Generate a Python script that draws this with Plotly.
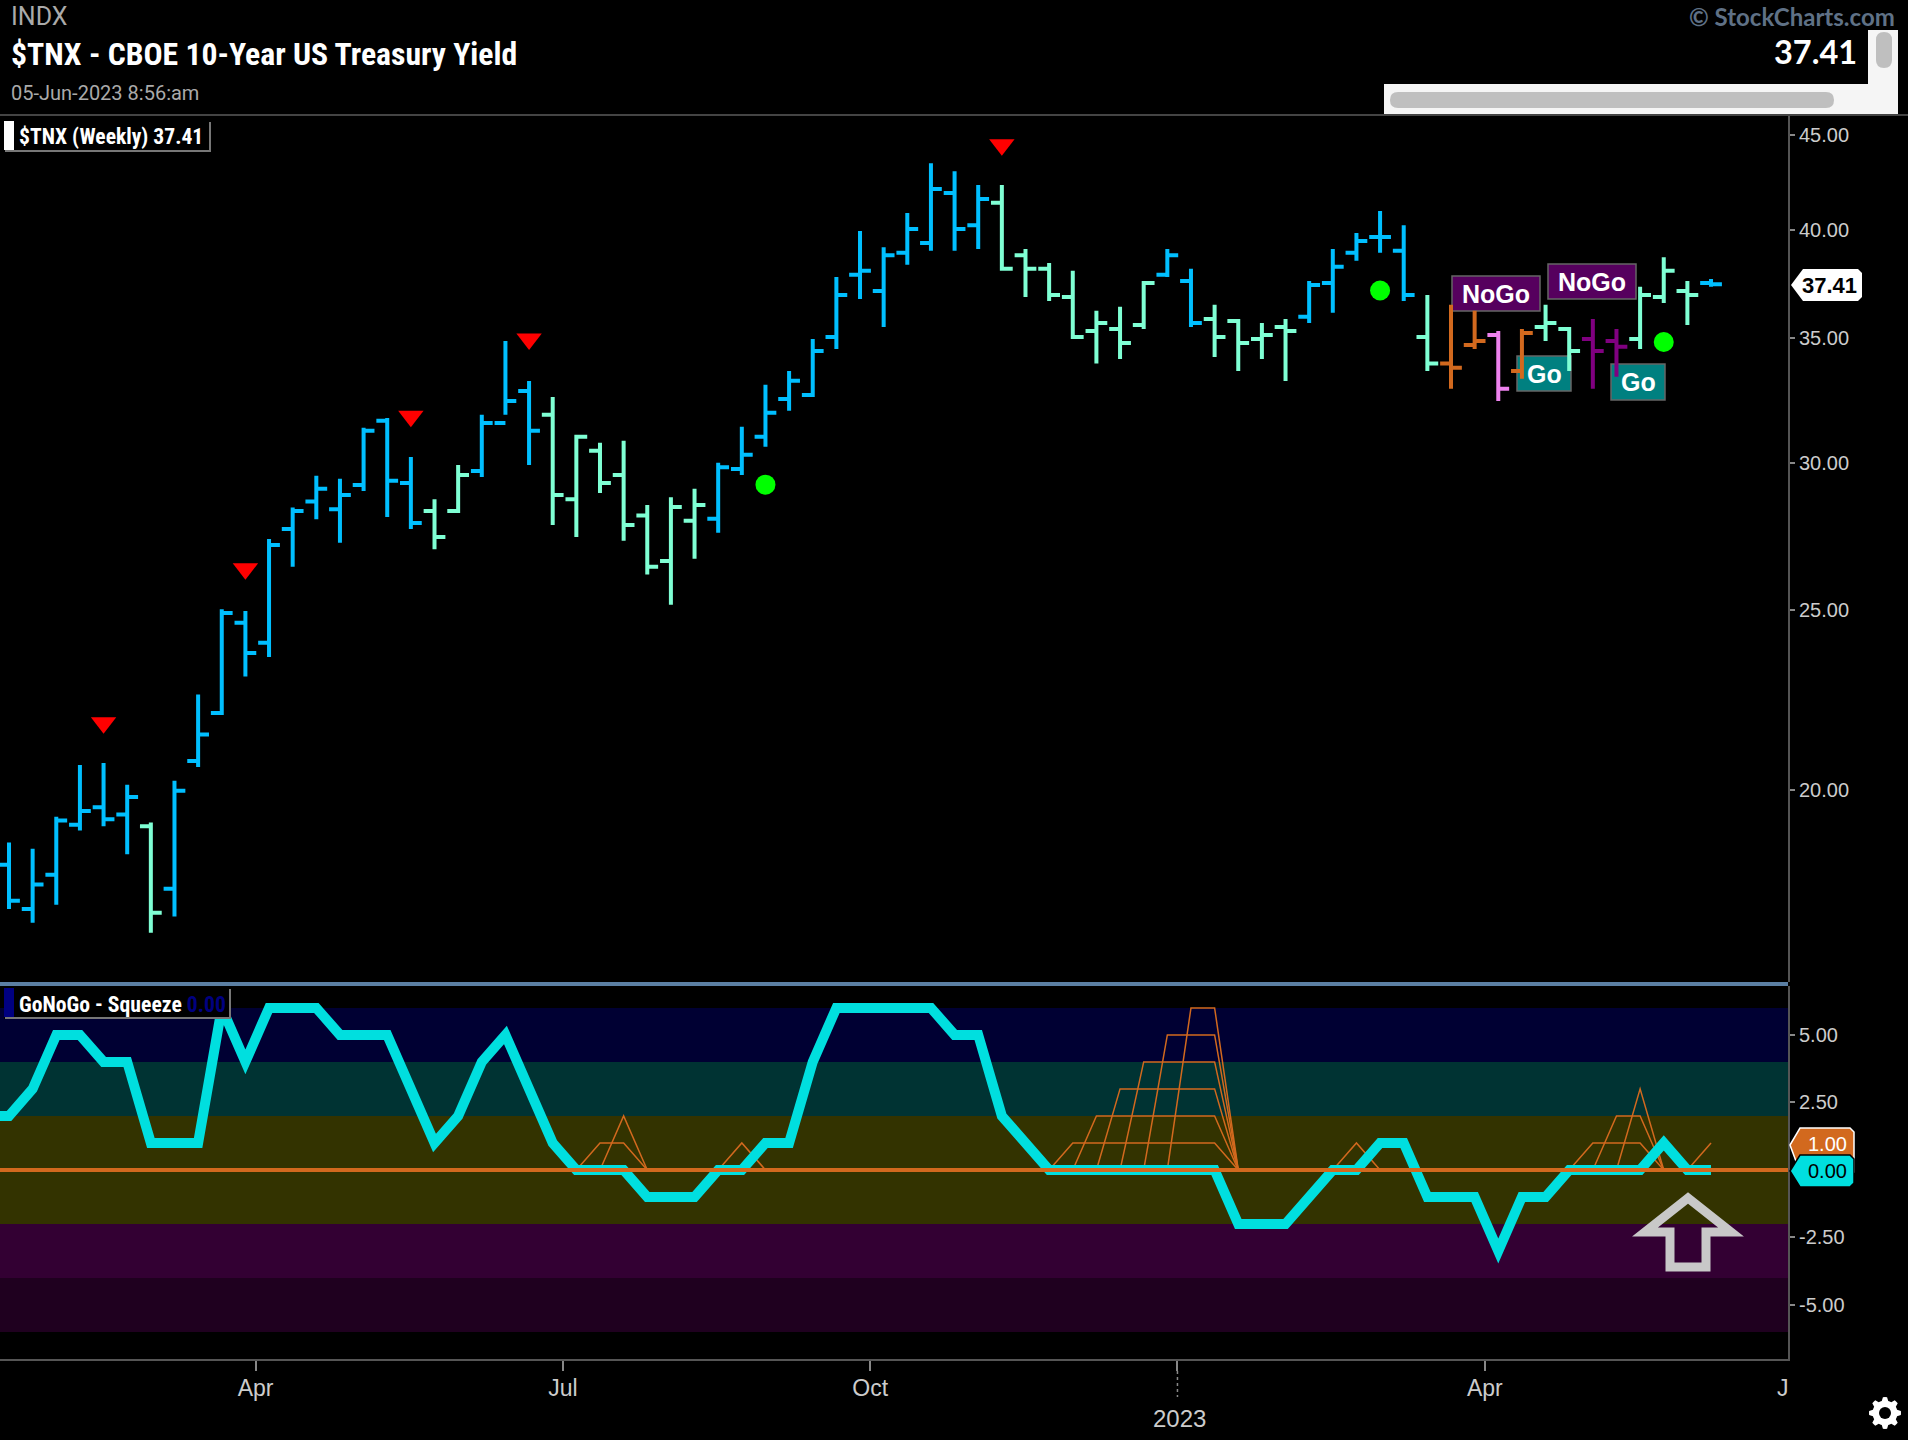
import math
import pandas as pd
from plotly.subplots import make_subplots
import plotly.graph_objs as go

# Weekly $TNX bars
week_dates = pd.date_range('2022-01-17', periods=73, freq='7D')

bar_open = [18.23, 17.26, 18.01, 19.16, 19.58, 19.40, 19.12, 17.70, 20.73, 22.00, 24.60, 24.00, 27.63, 28.59, 28.31, 29.18,
            31.59, 29.25, 28.25, 28.25, 29.69, 31.51, 32.78, 31.83, 28.67, 30.44, 29.54, 28.10, 26.56, 27.91, 27.98, 29.76,
            30.97, 32.46, 32.62, 35.04, 37.85, 37.10, 38.90, 39.37, 41.88, 40.25, 41.38, 38.78, 38.13, 36.83, 35.31, 35.39,
            35.57, 37.85, 37.56, 35.84, 35.75, 34.96, 35.48, 35.93, 37.47, 38.90, 39.66, 38.99, 35.04, 33.91, 34.70, 35.13,
            33.60, 35.48, 35.39, 34.96, 34.87, 34.96, 36.83, 37.10, 37.47]
bar_high = [18.74, 18.60, 19.35, 20.63, 20.68, 20.13, 19.21, 20.23, 22.51, 25.02, 24.96, 27.29, 28.38, 29.51, 29.40, 31.32,
            31.70, 30.21, 28.67, 29.91, 31.83, 34.87, 33.19, 32.54, 31.05, 30.74, 30.82, 28.46, 28.74, 29.04, 29.99, 31.36,
            33.03, 33.60, 34.96, 37.75, 39.96, 39.17, 40.86, 43.46, 43.03, 42.30, 42.30, 39.08, 38.41, 38.04, 36.20, 36.38,
            37.56, 39.08, 38.13, 36.47, 35.84, 35.66, 35.84, 37.56, 39.08, 39.86, 40.96, 40.25, 36.92, 36.47, 36.20, 35.31,
            35.39, 36.47, 35.48, 35.84, 35.39, 37.29, 38.68, 37.56, 37.66]
bar_low = [17.26, 16.97, 17.35, 19.02, 19.12, 18.47, 16.76, 17.10, 20.58, 21.95, 23.02, 23.58, 26.37, 27.97, 27.16, 28.96,
           28.04, 27.63, 26.95, 28.18, 29.47, 31.83, 29.91, 27.77, 27.36, 28.89, 27.23, 26.12, 25.16, 26.63, 27.50, 29.54,
           30.59, 31.99, 32.54, 34.53, 36.73, 35.48, 38.32, 38.99, 38.99, 39.08, 38.04, 36.83, 36.64, 34.96, 33.91, 34.10,
           35.39, 37.75, 35.48, 34.19, 33.60, 34.10, 33.19, 35.66, 36.11, 38.51, 38.90, 36.64, 33.60, 32.87, 34.53, 32.38,
           33.28, 34.87, 33.60, 32.87, 33.36, 34.53, 36.55, 35.57, 37.29]
bar_close = [17.44, 17.79, 19.26, 19.49, 19.29, 19.83, 17.18, 19.98, 21.42, 24.90, 23.70, 27.09, 28.25, 29.04, 28.82, 31.20,
             29.33, 27.84, 27.36, 29.54, 31.51, 32.38, 31.20, 28.82, 30.97, 29.25, 27.77, 26.37, 28.39, 28.46, 29.83, 30.29,
             31.91, 33.20, 34.44, 36.92, 38.04, 38.78, 40.06, 42.09, 40.06, 41.58, 38.13, 38.13, 36.92, 35.04, 35.66, 34.79,
             37.47, 38.78, 35.66, 35.04, 34.79, 35.13, 35.31, 37.38, 38.23, 39.47, 39.66, 36.92, 33.91, 33.74, 34.87, 32.87,
             35.22, 35.66, 34.44, 34.44, 34.62, 36.92, 38.04, 36.92, 37.41]
bar_regime = (['go'] * 6 + ['weak'] + ['go'] * 11 + ['weak'] * 2 + ['go'] * 3 + ['weak'] * 7 + ['go'] * 12 + ['weak'] * 7
              + ['go'] * 2 + ['weak'] * 4 + ['go'] * 5 + ['weak'] + ['nogo'] * 2 + ['pink'] + ['nogo'] + ['weak'] * 2
              + ['purple'] * 2 + ['weak'] * 3 + ['go'])
regime_colors = {'go': '#00bfff', 'weak': '#7fffd4', 'nogo': '#d2691e', 'pink': '#ee82ee', 'purple': '#800080'}

# Signal markers
red_idx = [4, 10, 17, 22, 42]
red_val = [21.74, 26.30, 31.77, 34.96, 44.47]
green_idx = [32, 58, 70]
green_val = [29.19, 37.12, 34.83]

# Oscillator, first value sits one week before the first bar
osc_val = [2, 2, 3, 5, 5, 4, 4, 1, 1, 1, 6, 4, 6, 6, 6, 5, 5, 5, 3, 1, 2, 4, 5, 3, 1, 0, 0, 0, -1, -1, -1, 0, 0, 1, 1, 4, 6, 6,
           6, 6, 6, 5, 5, 2, 1, 0, 0, 0, 0, 0, 0, 0, 0, -2, -2, -2, -1, 0, 0, 1, 1, -1, -1, -1, -3, -1, -1, 0, 0, 0, 0, 1, 0, 0]

# Squeeze grid: first bar index and values of each run
squeeze_runs = [(24, [0, 1, 1, 0]), (25, [0, 2, 0]), (30, [0, 1, 0]),
                (44, [0, 1, 1, 1, 1, 1, 1, 1, 0]), (45, [0, 2, 2, 2, 2, 2, 2, 0]), (46, [0, 3, 3, 3, 3, 3, 0]),
                (47, [0, 4, 4, 4, 4, 0]), (48, [0, 5, 5, 5, 0]), (49, [0, 6, 6, 0]),
                (56, [0, 1, 0]), (66, [0, 1, 1, 1, 0]), (67, [0, 2, 2, 0]), (68, [0, 3, 0]), (71, [0, 1])]

band_edges = [6, 4, 2, -2, -4, -6]
band_colors = ['#000033', '#003333', '#333300', '#330033', '#1f001f']

price_ticks = [20, 25, 30, 35, 40, 45]
price_labels = ['20.00', '25.00', '30.00', '35.00', '40.00', '45.00']
osc_ticks = [-5, -2.5, 2.5, 5]
osc_labels = ['-5.00', '-2.50', '2.50', '5.00']
time_ticks = ['2022-03-31', '2022-06-30', '2022-09-29', '2022-12-29', '2023-03-30']
time_labels = ['Apr', 'Jul', 'Oct', '', 'Apr']

W, H = 1908, 1440
RIGHT = 1788
AXIS_COLOR = '#555555'
LABEL_COLOR = '#cccccc'
NARROW = 'Liberation Sans Narrow, Roboto Condensed, Roboto'
HELV = 'Liberation Sans, Arial'


# pixel helpers for the page furniture
def fx(px):
    return px / W


def fy(py):
    return 1 - py / H


def poly(points):
    return 'M' + ' L'.join('%.5f,%.5f' % (fx(a), fy(b)) for a, b in points) + ' Z'


def pill(x0, y0, x1, y1, r):
    c = 'M%.5f,%.5f' % (fx(x0 + r), fy(y0))
    c += ' L%.5f,%.5f Q%.5f,%.5f %.5f,%.5f' % (fx(x1 - r), fy(y0), fx(x1), fy(y0), fx(x1), fy(y0 + r))
    c += ' L%.5f,%.5f Q%.5f,%.5f %.5f,%.5f' % (fx(x1), fy(y1 - r), fx(x1), fy(y1), fx(x1 - r), fy(y1))
    c += ' L%.5f,%.5f Q%.5f,%.5f %.5f,%.5f' % (fx(x0 + r), fy(y1), fx(x0), fy(y1), fx(x0), fy(y1 - r))
    c += ' L%.5f,%.5f Q%.5f,%.5f %.5f,%.5f Z' % (fx(x0), fy(y0 + r), fx(x0), fy(y0), fx(x0 + r), fy(y0))
    return c


fig = make_subplots(rows=2, cols=1, shared_xaxes=True, vertical_spacing=0)

# bars, one trace per colour
for regime, color in regime_colors.items():
    keep = [r == regime for r in bar_regime]
    fig.add_trace(go.Ohlc(x=week_dates,
                          open=[v if k else None for v, k in zip(bar_open, keep)],
                          high=[v if k else None for v, k in zip(bar_high, keep)],
                          low=[v if k else None for v, k in zip(bar_low, keep)],
                          close=[v if k else None for v, k in zip(bar_close, keep)],
                          tickwidth=0.46,
                          increasing_line=dict(color=color, width=4),
                          decreasing_line=dict(color=color, width=4)), row=1, col=1)

fig.add_trace(go.Scatter(x=week_dates[red_idx], y=red_val, mode='markers',
                         marker=dict(symbol='triangle-down', size=22, color='#ff0000')), row=1, col=1)
fig.add_trace(go.Scatter(x=week_dates[green_idx], y=green_val, mode='markers',
                         marker=dict(symbol='circle', size=20, color='#00ff00')), row=1, col=1)

# squeeze grid under the oscillator
for start, values in squeeze_runs:
    fig.add_trace(go.Scatter(x=week_dates[start:start + len(values)], y=values, mode='lines',
                             line=dict(color='#d2691e', width=1.5)), row=2, col=1)

osc_dates = [week_dates[0] - pd.Timedelta(days=7)] + list(week_dates)
fig.add_trace(go.Scatter(x=osc_dates, y=osc_val, mode='lines',
                         line=dict(color='#00dfdf', width=10)), row=2, col=1)
fig.add_trace(go.Scatter(x=[osc_dates[0], week_dates[-1] + pd.Timedelta(days=60)], y=[0, 0], mode='lines',
                         line=dict(color='#d2691e', width=4)), row=2, col=1)

shapes = []
annots = []

# regime bands
for i, color in enumerate(band_colors):
    shapes.append(dict(type='rect', xref='paper', yref='y2', x0=0, x1=fx(RIGHT), y0=band_edges[i], y1=band_edges[i + 1],
                       fillcolor=color, line_width=0, layer='below'))


def box(x0, y0, x1, y1, fill, line=None, layer='above', width=1.5):
    shapes.append(dict(type='rect', xref='paper', yref='paper', x0=fx(x0), x1=fx(x1), y0=fy(y0), y1=fy(y1),
                       fillcolor=fill, line=dict(color=line or fill, width=width if line else 0), layer=layer))


def label(px, py, text, size, color, family=HELV, anchor='center'):
    annots.append(dict(xref='paper', yref='paper', x=fx(px), y=fy(py), text=text, showarrow=False,
                       xanchor=anchor, yanchor='middle', borderpad=0,
                       font=dict(family=family, size=size, color=color)))


# NoGo / Go flags sit behind the bars
box(1452, 276, 1540, 311, '#56005e', '#666666', 'below')
box(1548, 264, 1636, 299, '#56005e', '#666666', 'below')
box(1517, 356, 1571, 391, '#008080', '#666666', 'below')
box(1611, 364, 1665, 400, '#008080', '#666666', 'below')
label(1496, 293.5, '<b>NoGo</b>', 25, '#ffffff')
label(1592, 281.5, '<b>NoGo</b>', 25, '#ffffff')
label(1544, 373.5, '<b>Go</b>', 25, '#ffffff')
label(1638, 382, '<b>Go</b>', 25, '#ffffff')

# separator between the panels and the header rule
shapes.append(dict(type='line', xref='paper', yref='paper', x0=0, x1=fx(RIGHT), y0=fy(984), y1=fy(984),
                   line=dict(color='#5b7fa3', width=4)))
shapes.append(dict(type='line', xref='paper', yref='paper', x0=0, x1=1, y0=fy(115), y1=fy(115),
                   line=dict(color='#444444', width=2)))

# panel legends
box(4, 121, 211, 152, '#000000')
box(5, 150, 211, 152, '#777777')
box(209, 122, 211, 152, '#777777')
box(4, 121, 14, 150, '#ffffff')
label(18, 136, '<b>$TNX (Weekly) 37.41</b>', 21.6, '#ffffff', NARROW, 'left')
box(4, 988, 231, 1019, '#000000')
box(5, 1017, 231, 1019, '#777777')
box(229, 989, 231, 1019, '#777777')
box(4, 988, 14, 1017, '#000080')
label(18, 1004, '<b>GoNoGo - Squeeze <span style="color:#000080">0.00</span></b>', 21.7, '#ffffff', NARROW, 'left')

# header
label(10, 17, 'INDX', 25, '#aaaaaa', 'Roboto', 'left')
label(10, 55, '<b>$TNX - CBOE 10-Year US Treasury Yield</b>', 31.7, '#ffffff', NARROW, 'left')
label(10, 93, '05-Jun-2023 8:56:am', 20, '#aaaaaa', 'Roboto', 'left')
label(1896, 17, '<b>© StockCharts.com</b>', 24, '#5f7186', 'Lato', 'right')
label(1858, 52, '<b>37.41</b>', 32.5, '#ffffff', 'Lato', 'right')

# fake scrollbars
box(1384, 84, 1898, 114, '#f5f5f5')
box(1868, 30, 1898, 114, '#f5f5f5')
shapes.append(dict(type='path', xref='paper', yref='paper', path=pill(1390, 92, 1834, 108, 8),
                   fillcolor='#bfbfbf', line_width=0))
shapes.append(dict(type='path', xref='paper', yref='paper', path=pill(1876, 32, 1892, 68, 8),
                   fillcolor='#bfbfbf', line_width=0))

# value tags on the right
shapes.append(dict(type='path', xref='paper', yref='paper', fillcolor='#ffffff', line_width=0,
                   path=poly([(1791, 285), (1803, 269), (1858, 269), (1862, 273), (1862, 297), (1858, 301), (1803, 301)])))
label(1829, 286, '<b>37.41</b>', 22, '#000000')
shapes.append(dict(type='path', xref='paper', yref='paper', fillcolor='#d2691e', line=dict(color='#ffffff', width=1.5),
                   path=poly([(1790, 1145), (1800, 1128), (1850, 1128), (1854, 1132), (1854, 1172), (1800, 1172)])))
label(1827, 1144, '1.00', 20, '#ffffff')
shapes.append(dict(type='path', xref='paper', yref='paper', fillcolor='#00dfdf', line=dict(color='#000000', width=1.5),
                   path=poly([(1790, 1171), (1800, 1155), (1850, 1155), (1854, 1159), (1854, 1183), (1850, 1187), (1800, 1187)])))
label(1827, 1171, '0.00', 20, '#000000')

# the up arrow
shapes.append(dict(type='path', xref='paper', yref='paper', line=dict(color='#c8c8c8', width=9),
                   path=poly([(1688, 1198), (1645, 1232), (1670, 1232), (1670, 1267), (1706, 1267), (1706, 1232), (1731, 1232)])))

# year separator and the labels past the last tick
shapes.append(dict(type='line', xref='x2', yref='paper', x0=time_ticks[3], x1=time_ticks[3], y0=fy(1371), y1=fy(1397),
                   line=dict(color='#888888', width=1.5, dash='dot')))
label(1179, 1418, '2023', 24, LABEL_COLOR)
label(1783, 1388, 'J', 23, LABEL_COLOR)

# settings gear
gear = []
for i in range(48):
    a = i / 48 * 2 * math.pi
    r = 16 if (i % 6) in (0, 1, 5) else 12.5
    gear.append((1885 + r * math.cos(a), 1413 + r * math.sin(a)))
shapes.append(dict(type='path', xref='paper', yref='paper', path=poly(gear), fillcolor='#ffffff', line_width=0))
shapes.append(dict(type='circle', xref='paper', yref='paper', x0=fx(1879), x1=fx(1891), y0=fy(1407), y1=fy(1419),
                   fillcolor='#000000', line_width=0))

fig.update_layout(width=W, height=H, margin=dict(l=0, r=0, t=0, b=0), showlegend=False,
                  paper_bgcolor='#000000', plot_bgcolor='rgba(0,0,0,0)', hovermode=False,
                  shapes=shapes, annotations=annots, font=dict(family=HELV, color=LABEL_COLOR, size=20))

x_range = ['2022-01-14 08:00', '2023-06-27 19:00']
fig.update_xaxes(range=x_range, domain=[0, fx(RIGHT)], showgrid=False, zeroline=False, rangeslider_visible=False)
fig.update_xaxes(showticklabels=False, ticks='', showline=False, row=1, col=1)
fig.update_xaxes(tickmode='array', tickvals=time_ticks, ticktext=time_labels, ticks='outside', ticklen=10, tickwidth=1.5,
                 tickcolor='#888888', tickfont=dict(family=HELV, size=23, color=LABEL_COLOR), ticklabelstandoff=-3,
                 showline=True, linecolor=AXIS_COLOR, linewidth=2, row=2, col=1)
fig.update_yaxes(type='log', range=[1.1978, 1.6640], domain=[fy(982), fy(115)], side='right', showgrid=False, zeroline=False,
                 tickmode='array', tickvals=price_ticks, ticktext=price_labels, ticks='outside', ticklen=5, tickwidth=1.5,
                 tickcolor='#888888', tickfont=dict(family=HELV, size=20, color=LABEL_COLOR),
                 showline=True, linecolor=AXIS_COLOR, linewidth=2, row=1, col=1)
fig.update_yaxes(range=[-7.0, 6.81], domain=[fy(1359), fy(986)], side='right', showgrid=False, zeroline=False,
                 tickmode='array', tickvals=osc_ticks, ticktext=osc_labels, ticks='outside', ticklen=5, tickwidth=1.5,
                 tickcolor='#888888', tickfont=dict(family=HELV, size=20, color=LABEL_COLOR),
                 showline=True, linecolor=AXIS_COLOR, linewidth=2, row=2, col=1)

# page body has a default margin, drop it; also let the oscillator keep its sharp peaks
fig.write_html("out.html", config={'displayModeBar': False},
               post_script="document.body.style.margin='0';"
                           "document.querySelectorAll('.js-line').forEach(function(p){p.style.strokeMiterlimit=10;});")
